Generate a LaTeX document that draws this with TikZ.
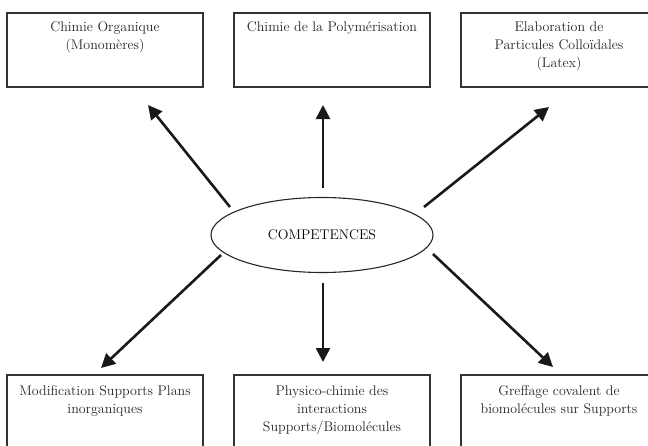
\documentclass[tikz,border=0pt]{standalone}
\usepackage{fontspec}
\usetikzlibrary{shapes.geometric,arrows.meta}
\begin{document}
\begin{tikzpicture}[x=1pt,y=-1pt,
  box/.style={draw=black!80,line width=1.1pt,minimum width=196pt,minimum height=74pt,inner sep=0pt,fill=white},
  lbl/.style={anchor=north,align=center,font=\fontsize{14}{18}\selectfont,inner sep=0pt,text=black!85},
  arr/.style={line width=2.6pt,black!90,-{Triangle[length=14pt,width=14pt]}},
  oval/.style={ellipse,draw=black!85,line width=1.1pt,minimum width=222pt,minimum height=75pt,inner sep=0pt,font=\fontsize{14}{16}\selectfont}]
\useasboundingbox (0,0) rectangle (648,445);
% top boxes
\node[box] (b1) at (105,50) {};
\node[box] (b2) at (332,50) {};
\node[box] (b3) at (559,50) {};
\node[lbl] (t1) at ([yshift=-9pt]b1.north) {Chimie Organique\\(Monomères)};
\node[lbl] (t2) at ([yshift=-9pt]b2.north) {Chimie de la Polymérisation};
\node[lbl] (t3) at ([yshift=-9pt]b3.north) {Elaboration de\\Particules Colloïdales\\(Latex)};
% bottom boxes
\node[box] (b4) at (105,412) {};
\node[box] (b5) at (332,412) {};
\node[box] (b6) at (559,412) {};
\node[lbl] (t4) at ([yshift=-11pt]b4.north) {Modification Supports Plans\\inorganiques};
\node[lbl] (t5) at ([yshift=-11pt]b5.north) {Physico-chimie des\\interactions\\Supports/Biomolécules};
\node[lbl] (t6) at ([yshift=-11pt]b6.north) {Greffage covalent de\\biomolécules sur Supports};
% centre
\node[oval] (c) at (322,235) {COMPETENCES};
% arrow ends
\coordinate (s1) at (230,207); \coordinate (e1) at (148,105);
\coordinate (s2) at (323,188); \coordinate (e2) at (323,105);
\coordinate (s3) at (424,207); \coordinate (e3) at (549,107);
\coordinate (s4) at (221,255); \coordinate (e4) at (101,368);
\coordinate (s5) at (323,283); \coordinate (e5) at (323,362);
\coordinate (s6) at (433,254); \coordinate (e6) at (553,367);
\draw[arr] (s1) -- (e1);
\draw[arr] (s2) -- (e2);
\draw[arr] (s3) -- (e3);
\draw[arr] (s4) -- (e4);
\draw[arr] (s5) -- (e5);
\draw[arr] (s6) -- (e6);
\end{tikzpicture}
\end{document}
